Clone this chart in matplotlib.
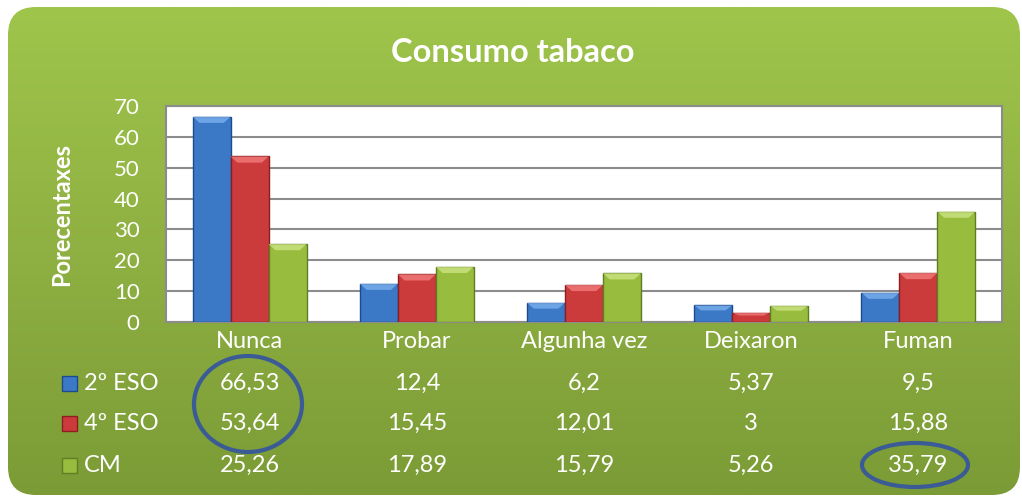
import numpy as np
import matplotlib
matplotlib.use("Agg")
import matplotlib.pyplot as plt
from matplotlib.patches import FancyBboxPatch, Rectangle, Ellipse, Polygon
from matplotlib.transforms import blended_transform_factory
import matplotlib.colors as mcolors

categories = ["Nunca", "Probar", "Algunha vez", "Deixaron", "Fuman"]
series_names = ["2º ESO", "4º ESO", "CM"]
eso2 = [66.53, 12.4, 6.2, 5.37, 9.5]
eso4 = [53.64, 15.45, 12.01, 3, 15.88]
cm = [25.26, 17.89, 15.79, 5.26, 35.79]
labels_2 = ["66,53", "12,4", "6,2", "5,37", "9,5"]
labels_4 = ["53,64", "15,45", "12,01", "3", "15,88"]
labels_cm = ["25,26", "17,89", "15,79", "5,26", "35,79"]
yticks = [0, 10, 20, 30, 40, 50, 60, 70]

FONT = "Lato"
FS = 17
W, H = 1022, 499
fig = plt.figure(figsize=(W / 100, H / 100), dpi=100)
fig.patch.set_facecolor("white")

# background with rounded corners and gradient
bg = fig.add_axes([0, 0, 1, 1], zorder=0)
bg.set_xlim(0, W)
bg.set_ylim(H, 0)
bg.axis("off")
grad = np.linspace(0, 1, 256).reshape(-1, 1)
cmap = mcolors.LinearSegmentedColormap.from_list("g", ["#9fc54b", "#8fb042", "#7b9b36"])
im = bg.imshow(grad, extent=[8, 1020, 495, 7], cmap=cmap, aspect="auto", zorder=1)
clip = FancyBboxPatch((8, 7), 1012, 488, boxstyle="round,pad=0,rounding_size=28",
                      transform=bg.transData, facecolor="none", edgecolor="none")
bg.add_patch(clip)
im.set_clip_path(clip)

# plot area
left, right, top, bottom = 166, 1002, 106, 322
ax = fig.add_axes([left / W, 1 - bottom / H, (right - left) / W, (bottom - top) / H], zorder=2)
ax.set_facecolor("white")
x = np.arange(len(categories))
bw = 0.227
colors = [("#3b78c6", "#1e4a8c", "#7fb3f0"), ("#cc3b3b", "#8b1e1e", "#f58080"), ("#98bc3e", "#5f7d22", "#cfe887")]
for i, (vals, (fc, ec, hc)) in enumerate(zip([eso2, eso4, cm], colors)):
    xs = x + (i - 1) * bw
    ax.bar(xs, vals, width=bw, color=fc, edgecolor=ec, linewidth=1.0, zorder=3)
    # bevel highlight at top (trapezoid)
    for xx, v in zip(xs, vals):
        bev = min(2.0, v * 0.3)
        inset = bw * 0.18
        ax.add_patch(Polygon([(xx - bw / 2, v), (xx + bw / 2, v),
                              (xx + bw / 2 - inset, v - bev), (xx - bw / 2 + inset, v - bev)],
                             closed=True, facecolor=hc, edgecolor="none", alpha=0.75, zorder=4))
ax.set_xlim(-0.5, len(categories) - 0.5)
ax.set_ylim(0, 70)
ax.set_yticks(yticks)
ax.set_yticklabels([str(t) for t in yticks], fontsize=16, color="white", family=FONT)
ax.set_xticks([])
ax.tick_params(axis="y", length=0, pad=19)
ax.grid(axis="y", color="#8c8c8c", linewidth=1.5, zorder=0)
ax.set_axisbelow(True)
for s in ax.spines.values():
    s.set_color("#8c8c8c")
    s.set_linewidth(1.5)

fig.text(513 / W, 1 - 52 / H, "Consumo tabaco", ha="center", va="center",
         fontsize=23.5, fontweight="bold", color="white", family=FONT)
fig.text(62 / W, 1 - 215 / H, "Porecentaxes", ha="center", va="center", rotation=90,
         fontsize=17, fontweight="bold", color="white", family=FONT)

tr = blended_transform_factory(ax.transData, fig.transFigure)
for xi, c in zip(x, categories):
    fig.text(xi, 1 - 342 / H, c, transform=tr, ha="center", va="center",
             fontsize=FS, color="white", family=FONT)
rows_y = [383, 423, 465]
for ry, labs in zip(rows_y, [labels_2, labels_4, labels_cm]):
    for xi, l in zip(x, labs):
        fig.text(xi, 1 - ry / H, l, transform=tr, ha="center", va="center",
                 fontsize=FS, color="white", family=FONT)

# legend keys
for ry, name, (fc, ec, hc) in zip(rows_y, series_names, colors):
    fig.patches.append(Rectangle((62 / W, 1 - (ry + 8) / H), 15 / W, 15 / H, transform=fig.transFigure,
                                 facecolor=fc, edgecolor=ec, linewidth=1, zorder=5))
    fig.text(84 / W, 1 - ry / H, name, ha="left", va="center", fontsize=FS, color="white", family=FONT)

# circles
ov = fig.add_axes([0, 0, 1, 1], zorder=6)
ov.set_xlim(0, W)
ov.set_ylim(H, 0)
ov.axis("off")
ov.patch.set_alpha(0)
ov.add_patch(Ellipse((248, 404), 108, 96, facecolor="none", edgecolor="#3a5b96", linewidth=3))
ov.add_patch(Ellipse((915, 465), 106, 44, facecolor="none", edgecolor="#3a5b96", linewidth=3))

fig.savefig("out.png", dpi=100)
